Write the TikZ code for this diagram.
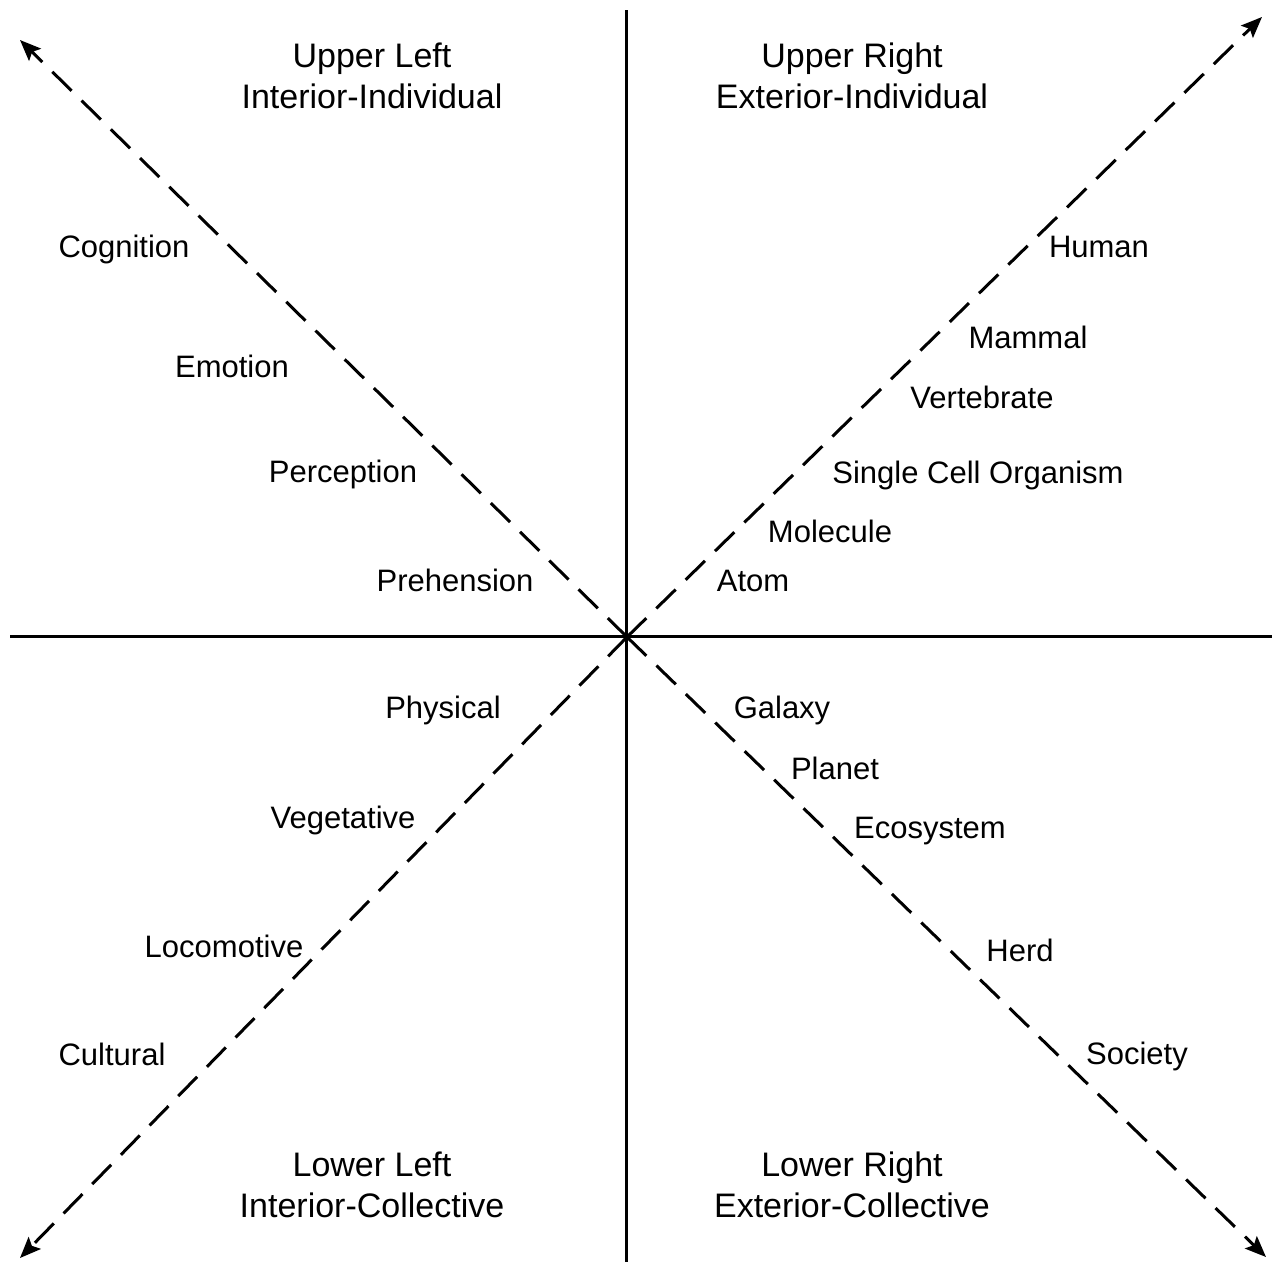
\documentclass[tikz,border=0pt]{standalone}
\usepackage{fontspec}
\setmainfont{Liberation Sans}
\usetikzlibrary{arrows.meta}
\begin{document}
\begin{tikzpicture}[x=1pt,y=-1pt,
  axis/.style={line width=3pt,black},
  diag/.style={line width=3pt,black,dash pattern=on 27pt off 14pt,-{Stealth[length=21pt,width=17pt,inset=4pt]}},
  head/.style={font=\fontsize{34}{41}\selectfont,align=center,inner sep=0pt},
  lab/.style={font=\fontsize{31}{37}\selectfont,anchor=base,inner sep=0pt}]
\useasboundingbox (0,0) rectangle (1276,1262);
% axes
\coordinate (o) at (627,637);
\coordinate (top) at (626,10);
\coordinate (bot) at (626,1262);
\coordinate (lft) at (10,636);
\coordinate (rgt) at (1272,636);
\draw[axis] (top) -- (bot);
\draw[axis] (lft) -- (rgt);
% diagonals
\coordinate (ul) at (20,40);
\coordinate (ur) at (1262,17);
\coordinate (ll) at (20,1258);
\coordinate (lr) at (1266,1257);
\draw[diag] (o) -- (ul);
\draw[diag] (o) -- (ur);
\draw[diag] (o) -- (ll);
\draw[diag] (o) -- (lr);
% headings
\node[head] (hul) at (372,76) {Upper Left\\Interior-Individual};
\node[head] (hur) at (852,76) {Upper Right\\Exterior-Individual};
\node[head] (hll) at (372,1185) {Lower Left\\Interior-Collective};
\node[head] (hlr) at (852,1185) {Lower Right\\Exterior-Collective};
% upper left labels
\node[lab] (cog) at (124,257) {Cognition};
\node[lab] (emo) at (232,377) {Emotion};
\node[lab] (per) at (343,482) {Perception};
\node[lab] (pre) at (455,591) {Prehension};
% upper right labels
\node[lab] (hum) at (1099,257) {Human};
\node[lab] (mam) at (1028,348) {Mammal};
\node[lab] (ver) at (982,408) {Vertebrate};
\node[lab] (sco) at (978,483) {Single Cell Organism};
\node[lab] (mol) at (830,542) {Molecule};
\node[lab] (ato) at (753,591) {Atom};
% lower left labels
\node[lab] (phy) at (443,718) {Physical};
\node[lab] (veg) at (343,828) {Vegetative};
\node[lab] (loc) at (224,957) {Locomotive};
\node[lab] (cul) at (112,1065) {Cultural};
% lower right labels
\node[lab] (gal) at (782,718) {Galaxy};
\node[lab] (pla) at (835,779) {Planet};
\node[lab] (eco) at (930,838) {Ecosystem};
\node[lab] (her) at (1020,961) {Herd};
\node[lab] (soc) at (1137,1064) {Society};
\end{tikzpicture}
\end{document}
